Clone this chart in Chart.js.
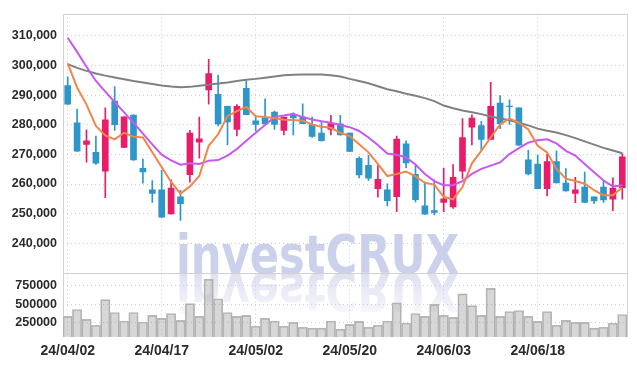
<!DOCTYPE html>
<html>
<head>
<meta charset="utf-8">
<script src="https://cdn.jsdelivr.net/npm/chart.js@4/dist/chart.umd.min.js"></script>
<style>
  html, body { margin: 0; padding: 0; background: #fff; }
  #wrap { width: 637px; height: 366px; }
</style>
</head>
<body>
<div id="wrap"><canvas id="candle_chart" width="637" height="366"></canvas></div>
<script>
// trading days (yy/mm/dd)
let dates = [
  '24/04/02','24/04/03','24/04/04','24/04/05','24/04/08','24/04/09','24/04/11','24/04/12','24/04/15','24/04/16',
  '24/04/17','24/04/18','24/04/19','24/04/22','24/04/23','24/04/24','24/04/25','24/04/26','24/04/29','24/04/30',
  '24/05/02','24/05/03','24/05/07','24/05/08','24/05/09','24/05/10','24/05/13','24/05/14','24/05/16','24/05/17',
  '24/05/20','24/05/21','24/05/22','24/05/23','24/05/24','24/05/27','24/05/28','24/05/29','24/05/30','24/05/31',
  '24/06/03','24/06/04','24/06/05','24/06/07','24/06/10','24/06/11','24/06/12','24/06/13','24/06/14','24/06/17',
  '24/06/18','24/06/19','24/06/20','24/06/21','24/06/24','24/06/25','24/06/26','24/06/27','24/06/28','24/07/01'
]

// OHLC
let open_prices = [
  293200,280700,273400,270700,264300,288000,272400,283300,265300,258000,
  258000,249900,255700,263200,274100,291800,290300,286200,278400,292300,
  281300,282300,284300,278100,283200,282600,280100,277200,278400,280300,
  277200,268700,266300,258400,258000,255700,273600,263300,252600,251000,
  253800,252300,264300,279200,279700,275100,287300,286300,285700,268200,
  266700,258400,267600,260300,256800,259000,255700,259000,254900,258800
]
let high_prices = [
  296200,285300,278300,276200,285700,292900,282700,283400,268400,261200,
  264600,261400,257900,278100,282600,302100,296800,286300,286800,294800,
  282600,288800,284600,282600,284000,287100,282600,281200,283200,283200,
  277300,269200,269700,266200,260100,276200,274600,266200,260700,261400,
  265400,266600,282100,283400,281200,294300,289900,288400,285700,271400,
  269800,270100,271200,265200,262300,264000,255700,261200,262100,270300
]
let low_prices = [
  286900,271000,267400,266600,255400,278100,272300,268000,260300,253800,
  248700,249800,247700,260600,268700,287000,279600,273200,276200,283400,
  277900,280300,278400,276600,276600,280400,275700,274500,276600,276500,
  270900,262100,261200,255600,252600,250700,265400,254000,249700,249600,
  250700,251800,261800,273200,271400,275000,278700,280100,273000,263100,
  258400,256000,260400,257600,253700,253700,253400,253800,251000,254900
]
let close_prices = [
  287000,271100,274600,267000,281700,280000,282700,268100,264100,256800,
  248800,258600,253400,277200,275300,297300,280300,281000,286200,283400,
  280100,280300,280100,282600,282300,280400,276100,274600,280400,276600,
  271000,263100,262000,261600,254400,275200,267100,254700,249800,250400,
  255000,262300,275700,282300,275100,286200,280300,286100,273100,263400,
  258400,267600,260400,257700,258000,253800,254300,254600,258600,269200
]

// moving average lines as drawn (5 / 20 / 60 day)
let ma_short = [
  300700,292600,286800,279600,276400,275100,277300,276000,275700,270700,
  265700,260700,256800,259200,262700,272900,276800,282900,284600,286000,
  282900,282600,282300,281700,281600,281400,280100,279300,279000,277300,
  276200,273400,270700,266800,262700,263400,264200,262600,260400,259800,
  255700,254800,259000,267000,271200,275700,280100,282100,280700,278400,
  272900,270700,265100,261800,261000,260100,257900,256200,256200,258800
]
let ma_mid = [
  309400,304600,299600,294800,291200,287700,284200,280700,277000,273400,
  269900,268000,266500,267000,266800,267900,268100,269600,271800,274600,
  277300,279900,282600,283100,283700,282600,281800,281200,280700,279900,
  279200,277900,275700,273200,270300,269900,269000,266600,263400,261000,
  259600,259600,261000,263400,265100,266200,267300,270100,272100,274000,
  274800,275100,273700,271200,269600,266800,264000,261200,259200,259600
]
let ma_long = [
  300500,299200,298200,297300,296600,296000,295400,294800,294300,293800,
  293300,292900,292700,292800,293200,293500,293900,294300,294800,295200,
  295500,295900,296300,296700,296900,297000,297000,297000,296700,296300,
  295500,294800,294000,293000,292000,291300,290500,289800,289000,288000,
  286500,285600,284800,284200,283600,282800,282100,281500,280700,279800,
  278700,278000,277400,276500,275500,274400,273300,272200,271300,270400
]

let volumes = [
  335000,429000,295000,215000,563000,389000,273000,389000,259000,349000,
  309000,375000,282000,509000,335000,843000,576000,389000,335000,349000,
  202000,309000,273000,202000,255000,188000,175000,175000,273000,162000,
  228000,268000,188000,215000,273000,522000,246000,375000,335000,500000,
  349000,322000,643000,483000,349000,718000,335000,402000,416000,335000,
  268000,402000,215000,282000,255000,255000,175000,188000,242000,362000
]

// axis ticks
let price_ticks = [240000, 250000, 260000, 270000, 280000, 290000, 300000, 310000]
let volume_ticks = [250000, 500000, 750000]

let watermark_text = 'investCRUX'

// colours
const UP = 'rgb(232, 28, 104)'
const DOWN = 'rgb(46, 150, 200)'
const GRID = 'rgba(175, 175, 215, 0.65)'
const FRAME = 'rgb(208, 208, 214)'

let candle_colors = open_prices.map((o, i) => close_prices[i] >= o ? UP : DOWN)
let body_data = open_prices.map((o, i) => [o, close_prices[i]])
let wick_data = low_prices.map((l, i) => [l, high_prices[i]])

Chart.defaults.font.family = '"Liberation Sans", Arial, sans-serif'
Chart.defaults.color = '#2a2a2a'

// faded logo behind the candles, with a mirrored copy in the volume panel
const watermarkPlugin = {
  id: 'watermark',
  beforeDatasetsDraw(chart) {
    const ctx = chart.ctx
    const base = chart.scales.y.bottom
    ctx.save()
    ctx.font = 'bold 54px "DejaVu Sans"'
    let w = ctx.measureText(watermark_text).width
    ctx.translate(176, base)
    ctx.scale(283 / w, 1)
    ctx.fillStyle = 'rgba(194, 201, 230, 0.85)'
    ctx.fillText(watermark_text, 0, 0)
    ctx.scale(1, -1)
    let g = ctx.createLinearGradient(0, 0, 0, -42)
    g.addColorStop(0, 'rgba(205, 208, 232, 0.65)')
    g.addColorStop(1, 'rgba(205, 208, 232, 0.15)')
    ctx.fillStyle = g
    ctx.fillText(watermark_text, 0, 0)
    ctx.restore()
  }
}

// panel frame and divider between price and volume
const framePlugin = {
  id: 'frame',
  beforeDatasetsDraw(chart) {
    const {ctx, chartArea} = chart
    const mid = Math.round(chart.scales.y.bottom) + 0.5
    ctx.save()
    ctx.strokeStyle = FRAME
    ctx.lineWidth = 1
    ctx.beginPath()
    ctx.moveTo(Math.round(chartArea.left) + 0.5, chartArea.bottom)
    ctx.lineTo(Math.round(chartArea.left) + 0.5, Math.round(chartArea.top) + 0.5)
    ctx.lineTo(Math.round(chartArea.right) + 0.5, Math.round(chartArea.top) + 0.5)
    ctx.lineTo(Math.round(chartArea.right) + 0.5, chartArea.bottom)
    ctx.moveTo(chartArea.left, mid)
    ctx.lineTo(chartArea.right, mid)
    ctx.stroke()
    ctx.restore()
  }
}

let ctx = document.getElementById('candle_chart')
new Chart(ctx, {
  type: 'bar',
  data: {
    labels: dates,
    datasets: [
      { type: 'line', data: ma_short, borderColor: 'rgb(240, 134, 74)', borderWidth: 2, pointRadius: 0, yAxisID: 'y', order: 0 },
      { type: 'line', data: ma_mid, borderColor: 'rgb(200, 88, 240)', borderWidth: 2, pointRadius: 0, yAxisID: 'y', order: 0 },
      { type: 'line', data: ma_long, borderColor: 'rgb(128, 128, 128)', borderWidth: 2, pointRadius: 0, yAxisID: 'y', order: 0 },
      { data: body_data, backgroundColor: candle_colors, barThickness: 6, grouped: false, yAxisID: 'y', order: 1 },
      { data: wick_data, backgroundColor: candle_colors, barThickness: 1, grouped: false, yAxisID: 'y', order: 2 },
      { data: volumes, backgroundColor: 'rgba(150, 150, 150, 0.38)', borderColor: 'rgb(185, 185, 185)', borderWidth: 1,
        borderSkipped: false, barPercentage: 1, categoryPercentage: 1, grouped: false, yAxisID: 'yv', order: 3 }
    ]
  },
  plugins: [watermarkPlugin, framePlugin],
  options: {
    responsive: false,
    animation: false,
    layout: { padding: { top: 9, right: 10, left: 0, bottom: 0 } },
    plugins: { legend: { display: false }, tooltip: { enabled: false } },
    scales: {
      x: {
        offset: true,
        grid: { offset: false, drawTicks: false, color: c => c.index % 10 === 0 ? GRID : 'rgba(0,0,0,0)' },
        border: { display: false, dash: [1, 3] },
        ticks: {
          autoSkip: false, maxRotation: 0, padding: 6, font: { size: 14, weight: 'bold' },
          callback: function (v, i) { return i % 10 === 0 ? this.getLabelForValue(v) : '' }
        },
        afterFit: s => { s.height = 29 }
      },
      yv: {
        position: 'left', stack: 'panels', stackWeight: 65,
        min: 55000, max: 928000,
        grid: { drawTicks: false, color: GRID },
        border: { display: false, dash: [1, 3] },
        ticks: { autoSkip: false, padding: 6, font: { size: 12.5, weight: 'bold' }, callback: v => String(v) },
        afterBuildTicks: s => { s.ticks = volume_ticks.map(v => ({ value: v })) },
        afterFit: s => { s.width = 63 }
      },
      y: {
        position: 'left', stack: 'panels', stackWeight: 263,
        min: 230000, max: 317570,
        grid: { drawTicks: false, color: GRID },
        border: { display: false, dash: [1, 3] },
        ticks: { autoSkip: false, padding: 6, font: { size: 12.5, weight: 'bold' }, callback: v => v.toLocaleString('en-US') },
        afterBuildTicks: s => { s.ticks = price_ticks.map(v => ({ value: v })) },
        afterFit: s => { s.width = 63 }
      }
    }
  }
})
</script>
</body>
</html>
